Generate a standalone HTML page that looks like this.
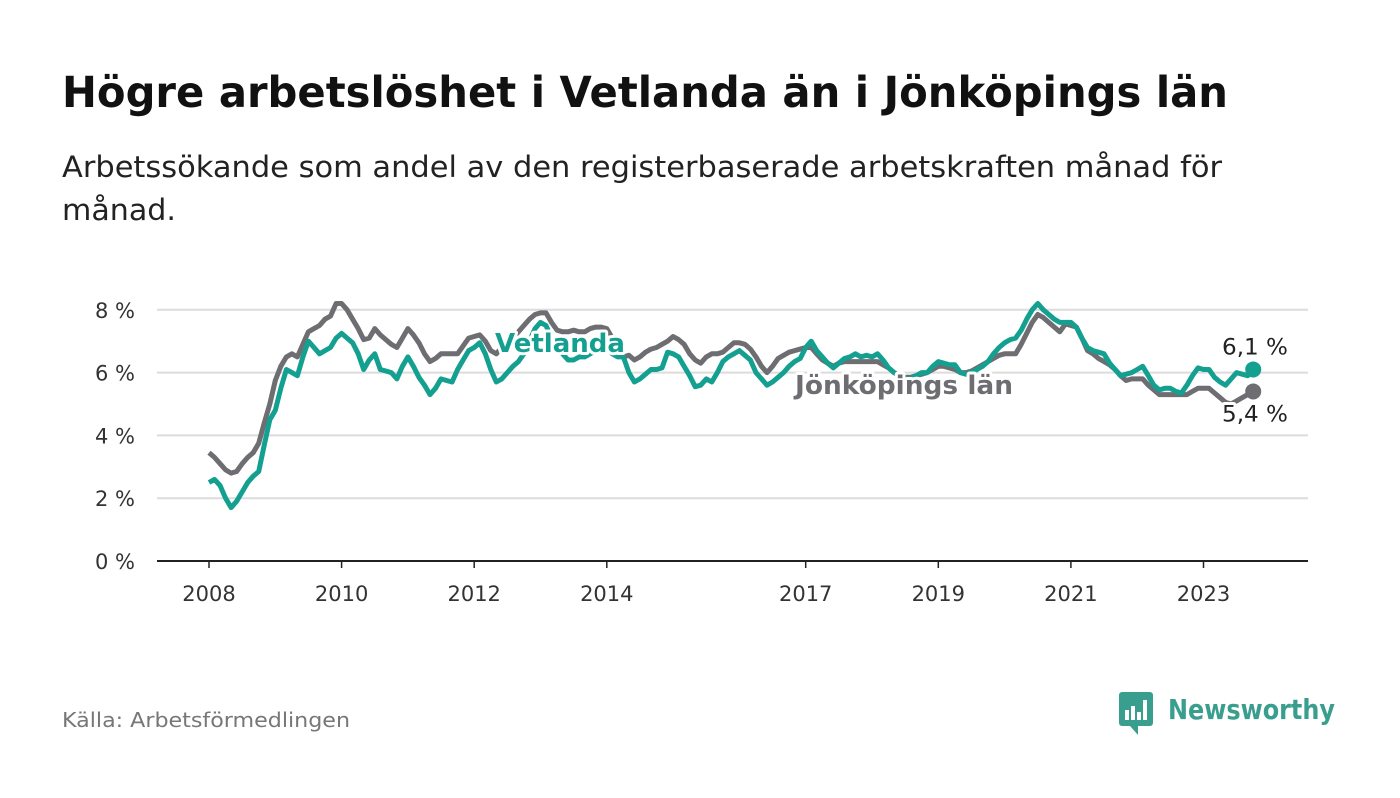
<!DOCTYPE html>
<html><head><meta charset="utf-8"><style>
body{margin:0;width:1400px;height:794px;background:#fff;font-family:"DejaVu Sans","Liberation Sans",sans-serif;overflow:hidden}
svg text{font-family:"DejaVu Sans","Liberation Sans",sans-serif}
</style></head><body>
<svg width="1400" height="794">
<text x="62" y="107" font-size="43" font-weight="bold" fill="#111" textLength="1166" lengthAdjust="spacingAndGlyphs">Högre arbetslöshet i Vetlanda än i Jönköpings län</text>
<text x="62" y="177" font-size="29" fill="#222" textLength="1160" lengthAdjust="spacingAndGlyphs">Arbetssökande som andel av den registerbaserade arbetskraften månad för</text>
<text x="62" y="220" font-size="29" fill="#222" textLength="114" lengthAdjust="spacingAndGlyphs">månad.</text>
<g id="grid"></g><g id="series"></g><g id="labels"></g>
<text x="62" y="727" font-size="20" fill="#777" textLength="288" lengthAdjust="spacingAndGlyphs">Källa: Arbetsförmedlingen</text>
<g>
<rect x="1119" y="692" width="34" height="34" rx="3" fill="#3a9e8f"/>
<path d="M1130 726 L1138 735 L1138 726Z" fill="#3a9e8f"/>
<rect x="1125" y="710" width="4" height="10" fill="#fff"/><rect x="1131" y="706" width="4" height="14" fill="#fff"/><rect x="1137" y="712" width="4" height="8" fill="#fff"/><rect x="1143" y="700" width="4" height="20" fill="#fff"/>
<text x="1168" y="719" font-size="28" font-weight="bold" fill="#3a9e8f" textLength="167" lengthAdjust="spacingAndGlyphs">Newsworthy</text>
</g>
</svg>
<script>
const vetlanda=[2.5,2.6,2.4,2.0,1.7,1.9,2.2,2.5,2.7,2.85,3.7,4.5,4.8,5.5,6.1,6.0,5.9,6.5,7.0,6.8,6.6,6.7,6.8,7.1,7.25,7.1,6.95,6.6,6.1,6.4,6.6,6.1,6.05,6.0,5.8,6.2,6.5,6.2,5.85,5.6,5.3,5.5,5.8,5.75,5.7,6.1,6.4,6.7,6.8,6.95,6.6,6.1,5.7,5.8,6.0,6.2,6.35,6.6,7.0,7.4,7.6,7.5,7.1,6.8,6.6,6.4,6.4,6.5,6.5,6.6,6.7,6.8,6.8,6.6,6.5,6.5,6.0,5.7,5.8,5.95,6.1,6.1,6.15,6.65,6.6,6.5,6.2,5.9,5.55,5.6,5.8,5.7,6.0,6.35,6.5,6.6,6.7,6.55,6.4,6.0,5.8,5.6,5.7,5.85,6.0,6.2,6.35,6.45,6.8,7.0,6.7,6.5,6.3,6.15,6.3,6.45,6.5,6.6,6.5,6.55,6.5,6.6,6.4,6.15,6.0,5.9,5.8,5.8,5.9,6.0,6.0,6.2,6.35,6.3,6.25,6.25,6.0,5.95,6.0,6.1,6.2,6.35,6.6,6.8,6.95,7.05,7.1,7.35,7.7,8.0,8.2,8.0,7.85,7.7,7.6,7.6,7.6,7.45,7.1,6.8,6.7,6.65,6.6,6.3,6.1,5.9,5.95,6.0,6.1,6.2,5.9,5.6,5.45,5.5,5.5,5.4,5.35,5.6,5.9,6.15,6.1,6.1,5.85,5.7,5.6,5.8,6.0,5.95,5.9,6.1];
const jonkoping=[3.45,3.3,3.1,2.9,2.8,2.85,3.1,3.3,3.45,3.75,4.4,5.0,5.75,6.2,6.5,6.6,6.5,6.9,7.3,7.4,7.5,7.7,7.8,8.2,8.2,8.0,7.7,7.4,7.05,7.1,7.4,7.2,7.05,6.9,6.8,7.1,7.4,7.2,6.95,6.6,6.35,6.45,6.6,6.6,6.6,6.6,6.85,7.1,7.15,7.2,7.0,6.7,6.6,6.8,6.9,7.1,7.3,7.5,7.7,7.85,7.9,7.9,7.6,7.35,7.3,7.3,7.35,7.3,7.3,7.4,7.45,7.45,7.4,7.1,6.7,6.5,6.55,6.4,6.5,6.65,6.75,6.8,6.9,7.0,7.15,7.05,6.9,6.6,6.4,6.3,6.5,6.6,6.6,6.65,6.8,6.95,6.95,6.9,6.75,6.5,6.2,6.0,6.2,6.45,6.55,6.65,6.7,6.75,6.8,6.8,6.6,6.4,6.3,6.2,6.3,6.35,6.35,6.35,6.35,6.35,6.35,6.35,6.25,6.15,6.0,5.9,5.85,5.85,5.9,5.95,6.0,6.1,6.2,6.2,6.15,6.1,6.0,6.0,6.05,6.15,6.25,6.35,6.45,6.55,6.6,6.6,6.6,6.9,7.25,7.6,7.85,7.75,7.6,7.45,7.3,7.55,7.5,7.45,7.1,6.7,6.6,6.45,6.35,6.25,6.1,5.9,5.75,5.8,5.8,5.8,5.6,5.45,5.3,5.3,5.3,5.3,5.3,5.3,5.4,5.5,5.5,5.5,5.35,5.2,5.05,5.0,5.1,5.2,5.3,5.4];
const yTicks=[0,2,4,6,8];
const yTickLabels=["0 %","2 %","4 %","6 %","8 %"];
const xTickYears=[2008,2010,2012,2014,2017,2019,2021,2023];
const startYear=2008;
const NS="http://www.w3.org/2000/svg";
const X0=209,PXM=66.3/12,Y0=561,PXV=31.4;
const xs=i=>X0+i*PXM, ys=v=>Y0-v*PXV;
function mk(t,a,p){const e=document.createElementNS(NS,t);for(const k in a)e.setAttribute(k,a[k]);p.appendChild(e);return e;}
const grid=document.getElementById('grid'),ser=document.getElementById('series'),lab=document.getElementById('labels');
yTicks.forEach((v,i)=>{
 const l=mk('line',{x1:157,x2:1308,y1:ys(v),y2:ys(v),stroke:v===0?'#222':'#dcdcdc','stroke-width':2},grid);
 
 
 const t=mk('text',{x:135,y:ys(v)+8,'text-anchor':'end','font-size':21,fill:'#333'},grid);
 t.textContent=yTickLabels[i];
 
 
});
xTickYears.forEach(yr=>{
 const x=xs((yr-startYear)*12);
 const tk=mk('line',{x1:x,x2:x,y1:Y0,y2:Y0+7,stroke:'#222','stroke-width':1.5},grid);
 
 
 const t=mk('text',{x:x,y:601,'text-anchor':'middle','font-size':21,fill:'#333'},grid);
 t.textContent=yr;
 
 
});
function line(arr,color,name){
 const d=arr.map((v,i)=>(i?'L':'M')+xs(i).toFixed(1)+' '+ys(v).toFixed(1)).join(' ');
 const p=mk('path',{d:d,fill:'none',stroke:color,'stroke-width':5,'stroke-linejoin':'round'},ser);
 
 
 const n=arr.length-1;
 const c=mk('circle',{cx:xs(n),cy:ys(arr[n]),r:8,fill:color},ser);
 
 
}
line(jonkoping,'#6d6d72','jonkoping-line');
line(vetlanda,'#14a090','vetlanda-line');
function label(x,y,txt,color,size,weight,name,len){
 const a={x:x,y:y,'text-anchor':'middle','font-size':size,'font-weight':weight,fill:color,stroke:'#fff','stroke-width':6,'paint-order':'stroke','stroke-linejoin':'round'};
 if(len){a.textLength=len;a.lengthAdjust='spacingAndGlyphs';}
 const t=mk('text',a,lab);
 t.textContent=txt;
 
 
}
label(560,352,'Vetlanda','#14a090',26,'bold','vetlanda-series-label',130);
label(904,394,'Jönköpings län','#6d6d72',26,'bold','jonkoping-series-label',218);
const n=vetlanda.length-1;
label(1255,ys(vetlanda[n])-15,vetlanda[n].toFixed(1).replace('.',',')+' %','#222',22,'normal','vetlanda-end-value',66);
label(1255,ys(jonkoping[n])+30,jonkoping[n].toFixed(1).replace('.',',')+' %','#222',22,'normal','jonkoping-end-value',66);
</script>
</body></html>
